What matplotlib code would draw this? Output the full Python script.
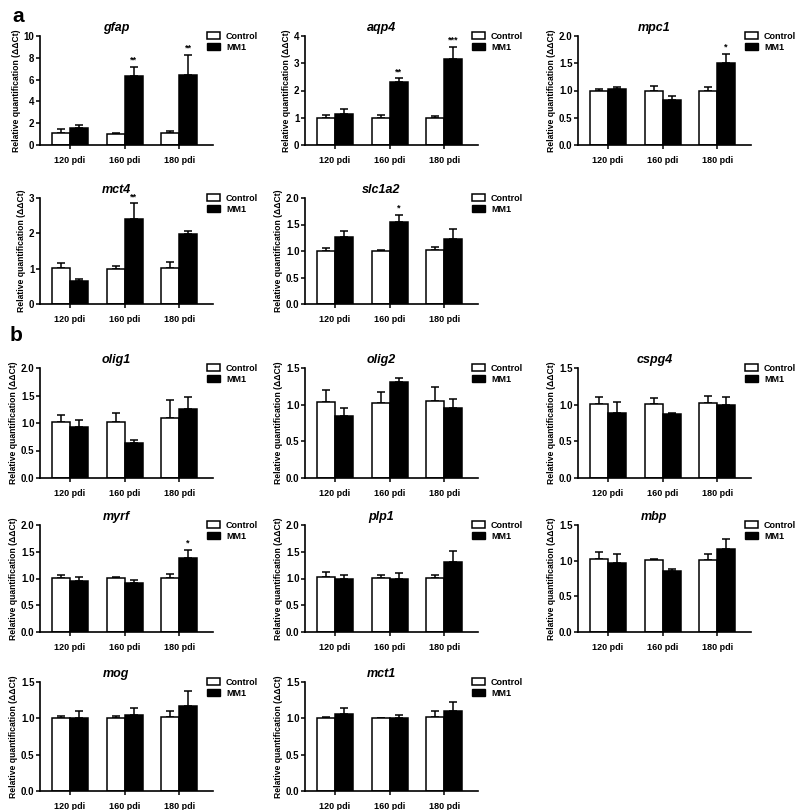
import matplotlib.pyplot as plt
from matplotlib.patches import Patch
from matplotlib.ticker import FormatStrFormatter

plt.rcParams["font.family"] = ["Liberation Sans", "DejaVu Sans"]
plt.rcParams["font.weight"] = "bold"

# %% Data
timepoints = ["120 pdi", "160 pdi", "180 pdi"]

genes = ["gfap", "aqp4", "mpc1", "mct4", "slc1a2",
         "olig1", "olig2", "cspg4", "myrf", "plp1", "mbp", "mog", "mct1"]

ctrl_mean = {
    "gfap": [1.10, 1.00, 1.08], "aqp4": [1.00, 1.00, 1.00], "mpc1": [1.00, 1.00, 1.00],
    "mct4": [1.02, 1.00, 1.03], "slc1a2": [1.00, 1.00, 1.01],
    "olig1": [1.01, 1.02, 1.10], "olig2": [1.03, 1.02, 1.05], "cspg4": [1.01, 1.01, 1.02],
    "myrf": [1.01, 1.01, 1.01], "plp1": [1.02, 1.01, 1.01], "mbp": [1.02, 1.01, 1.01],
    "mog": [1.00, 1.00, 1.02], "mct1": [1.00, 1.00, 1.02],
}
ctrl_err = {
    "gfap": [0.38, 0.10, 0.21], "aqp4": [0.10, 0.10, 0.08], "mpc1": [0.03, 0.08, 0.06],
    "mct4": [0.15, 0.07, 0.15], "slc1a2": [0.05, 0.02, 0.06],
    "olig1": [0.13, 0.16, 0.31], "olig2": [0.17, 0.15, 0.19], "cspg4": [0.09, 0.08, 0.10],
    "myrf": [0.05, 0.02, 0.08], "plp1": [0.10, 0.05, 0.05], "mbp": [0.10, 0.02, 0.08],
    "mog": [0.03, 0.03, 0.08], "mct1": [0.02, 0.005, 0.08],
}
mm1_mean = {
    "gfap": [1.57, 6.37, 6.43], "aqp4": [1.15, 2.33, 3.15], "mpc1": [1.03, 0.82, 1.50],
    "mct4": [0.65, 2.40, 1.97], "slc1a2": [1.26, 1.54, 1.22],
    "olig1": [0.92, 0.63, 1.25], "olig2": [0.84, 1.31, 0.96], "cspg4": [0.89, 0.87, 0.99],
    "myrf": [0.96, 0.91, 1.39], "plp1": [0.99, 0.99, 1.31], "mbp": [0.97, 0.85, 1.17],
    "mog": [1.00, 1.04, 1.17], "mct1": [1.06, 1.00, 1.10],
}
mm1_err = {
    "gfap": [0.22, 0.80, 1.85], "aqp4": [0.17, 0.12, 0.46], "mpc1": [0.03, 0.08, 0.17],
    "mct4": [0.07, 0.45, 0.11], "slc1a2": [0.12, 0.14, 0.19],
    "olig1": [0.14, 0.06, 0.22], "olig2": [0.11, 0.06, 0.12], "cspg4": [0.14, 0.02, 0.11],
    "myrf": [0.07, 0.07, 0.15], "plp1": [0.07, 0.12, 0.21], "mbp": [0.13, 0.03, 0.14],
    "mog": [0.10, 0.10, 0.20], "mct1": [0.08, 0.05, 0.13],
}
stars = {
    "gfap": ["", "**", "**"], "aqp4": ["", "**", "***"], "mpc1": ["", "", "*"],
    "mct4": ["", "**", ""], "slc1a2": ["", "*", ""], "myrf": ["", "", "*"],
}
y_max = {"gfap": 10, "aqp4": 4, "mpc1": 2.0, "mct4": 3, "slc1a2": 2.0,
         "olig1": 2.0, "olig2": 1.5, "cspg4": 1.5, "myrf": 2.0, "plp1": 2.0,
         "mbp": 1.5, "mog": 1.5, "mct1": 1.5}
y_step = {"gfap": 2, "aqp4": 1, "mct4": 1}

# %% Layout (pixels)
W, H = 800, 810
rows = [(36, 145), (198, 304), (368, 478), (525, 632), (682, 791)]
cols = [40, 305, 578]
ax_w = 173
grid = [["gfap", "aqp4", "mpc1"], ["mct4", "slc1a2"], ["olig1", "olig2", "cspg4"],
        ["myrf", "plp1", "mbp"], ["mog", "mct1"]]

fig = plt.figure(figsize=(W / 100, H / 100), dpi=100)
bw = 0.33

for r, names in enumerate(grid):
    top, bot = rows[r]
    for c, g in enumerate(names):
        left = cols[c]
        ax = fig.add_axes([left / W, 1 - bot / H, ax_w / W, (bot - top) / H])
        xs = range(len(timepoints))
        xc = [x - bw / 2 for x in xs]
        xm = [x + bw / 2 for x in xs]
        ax.bar(xc, ctrl_mean[g], bw, color="white", edgecolor="black", linewidth=1.1, zorder=2)
        ax.bar(xm, mm1_mean[g], bw, color="black", edgecolor="black", linewidth=1.1, zorder=2)
        ax.errorbar(xc, ctrl_mean[g], yerr=[[0] * 3, ctrl_err[g]], fmt="none",
                    ecolor="black", elinewidth=1.1, capsize=3, capthick=1.1, zorder=1)
        ax.errorbar(xm, mm1_mean[g], yerr=[[0] * 3, mm1_err[g]], fmt="none",
                    ecolor="black", elinewidth=1.1, capsize=3, capthick=1.1, zorder=1)
        for i, s in enumerate(stars.get(g, [])):
            if s:
                ax.text(xm[i], mm1_mean[g][i] + mm1_err[g][i] + y_max[g] * 0.02, s,
                        ha="center", va="bottom", fontsize=6.5)
        ax.set_xlim(-0.55, 2.62)
        ax.set_ylim(0, y_max[g])
        step = y_step.get(g, 0.5)
        n = int(round(y_max[g] / step))
        ax.set_yticks([i * step for i in range(n + 1)])
        if g not in y_step:
            ax.yaxis.set_major_formatter(FormatStrFormatter("%.1f"))
        ax.set_xticks(list(xs))
        ax.set_xticklabels(timepoints, fontsize=6.5, fontweight="bold")
        ax.tick_params(axis="y", labelsize=7, length=3, width=1.1, pad=1)
        ax.tick_params(axis="x", length=3, width=1.1, pad=5)
        for sp in ["top", "right"]:
            ax.spines[sp].set_visible(False)
        for sp in ["left", "bottom"]:
            ax.spines[sp].set_linewidth(1.2)
        ax.set_ylabel("Relative quantification (ΔΔCt)", fontsize=6.2, fontweight="bold", labelpad=2)
        ax.text(0.85, 1.02, g, transform=ax.get_xaxis_transform(), ha="center", va="bottom",
                fontsize=9, fontweight="bold", style="italic")
        handles = [Patch(facecolor="white", edgecolor="black", linewidth=1.1, label="Control"),
                   Patch(facecolor="black", edgecolor="black", label="MM1")]
        ax.legend(handles=handles, loc="upper left", bbox_to_anchor=(0.965, 1.04),
                  frameon=False, fontsize=6.5, handlelength=1.5, handleheight=0.8,
                  handletextpad=0.6, labelspacing=0.25, borderpad=0, borderaxespad=0)

fig.text(12 / W, 1 - 16 / H, "a", fontsize=15, fontweight="bold", va="center")
fig.text(10 / W, 1 - 336 / H, "b", fontsize=15, fontweight="bold", va="center")

fig.savefig("out.png", dpi=100)
